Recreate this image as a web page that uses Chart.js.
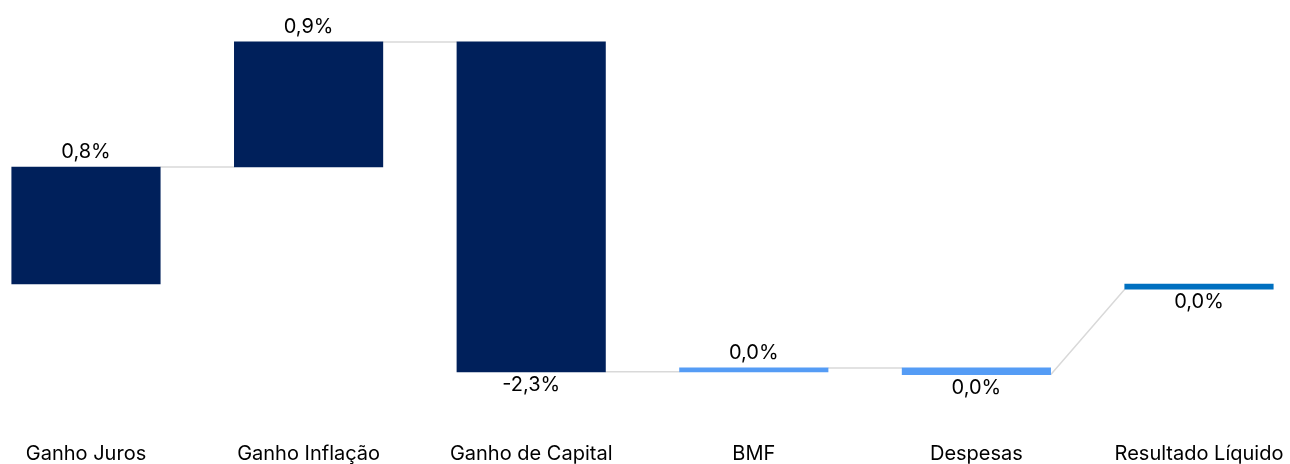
<!DOCTYPE html>
<html>
<head>
<meta charset="utf-8">
<script src="https://cdn.jsdelivr.net/npm/chart.js@4"></script>
<style>
  html, body { margin: 0; padding: 0; background: #fff; }
  #wrap { width: 1290px; height: 464px; }
</style>
</head>
<body>
<div id="wrap"><canvas id="chart"></canvas></div>
<script>
// ── Data ──
const CATS = ['Ganho Juros', 'Ganho Inflação', 'Ganho de Capital', 'BMF', 'Despesas', 'Resultado Líquido'];
const STARTS = [0, 0.80, 1.655, -0.601, -0.574, 0];
const ENDS   = [0.80, 1.655, -0.601, -0.574, -0.620, -0.036];
const VALUE_TEXT = ['0,8%', '0,9%', '-2,3%', '0,0%', '0,0%', '0,0%'];

// ── Colours ──
const C_NAVY  = '#00205B';
const C_LIGHT = '#559CF5';
const C_TOTAL = '#0070C0';
const C_CONN  = '#D9D9D9';
const BAR_COLORS = [C_NAVY, C_NAVY, C_NAVY, C_LIGHT, C_LIGHT, C_TOTAL];
const FONT = 'Inter';

// half bar width in category units (bar 148.5px, step 222.6px)
const HALF = 74.25 / 222.6;

const barData = CATS.map((c, i) => ({ x: i, y: [STARTS[i], ENDS[i]] }));

// connector segments: end of one bar to the start of the next
const connData = [];
for (let i = 0; i < CATS.length - 1; i++) {
  const target = (i + 1 === CATS.length - 1) ? ENDS[i + 1] : STARTS[i + 1];
  connData.push({ x: i + HALF, y: ENDS[i] });
  connData.push({ x: i + 1 - HALF, y: target });
  connData.push({ x: i + 0.5, y: null });
}

// ── Value labels above / below each bar ──
const valueLabels = {
  id: 'valueLabels',
  afterDatasetsDraw(chart) {
    const meta = chart.getDatasetMeta(1);
    const ctx = chart.ctx;
    ctx.save();
    ctx.font = `20px ${FONT}`;
    ctx.fillStyle = '#000';
    ctx.textAlign = 'center';
    ctx.textBaseline = 'alphabetic';
    meta.data.forEach((bar, i) => {
      const top = Math.min(bar.y, bar.base);
      const bottom = Math.max(bar.y, bar.base);
      if (ENDS[i] >= STARTS[i]) {
        ctx.fillText(VALUE_TEXT[i], bar.x, top - 9);
      } else {
        ctx.fillText(VALUE_TEXT[i], bar.x, bottom + 19);
      }
    });
    ctx.restore();
  }
};

new Chart(document.getElementById('chart'), {
  type: 'bar',
  data: {
    datasets: [
      {
        type: 'line',
        data: connData,
        borderColor: C_CONN,
        borderWidth: 1.5,
        pointRadius: 0,
        spanGaps: false,
        order: 2,
      },
      {
        type: 'bar',
        data: barData,
        backgroundColor: BAR_COLORS,
        barThickness: 148.5,
        borderWidth: 0,
        order: 1,
      }
    ]
  },
  options: {
    responsive: true,
    maintainAspectRatio: false,
    animation: false,
    layout: { padding: { top: 6.1, left: 0, right: 0, bottom: 0 } },
    plugins: {
      legend: { display: false },
      tooltip: { enabled: false },
    },
    scales: {
      x: {
        type: 'linear',
        offset: false,
        min: -0.3863,
        max: 5.4088,
        grid: { display: false, drawTicks: false },
        border: { display: false },
        afterBuildTicks: s => { s.ticks = CATS.map((c, i) => ({ value: i })); },
        afterFit: s => { s.height = 48.4; s.paddingLeft = 0; s.paddingRight = 0; },
        ticks: {
          callback: v => CATS[v],
          autoSkip: false,
          maxRotation: 0,
          color: '#000',
          padding: 26,
          font: { family: FONT, size: 20 },
        }
      },
      y: {
        display: false,
        min: -0.9,
        max: 1.9,
      }
    }
  },
  plugins: [valueLabels]
});
</script>
</body>
</html>
